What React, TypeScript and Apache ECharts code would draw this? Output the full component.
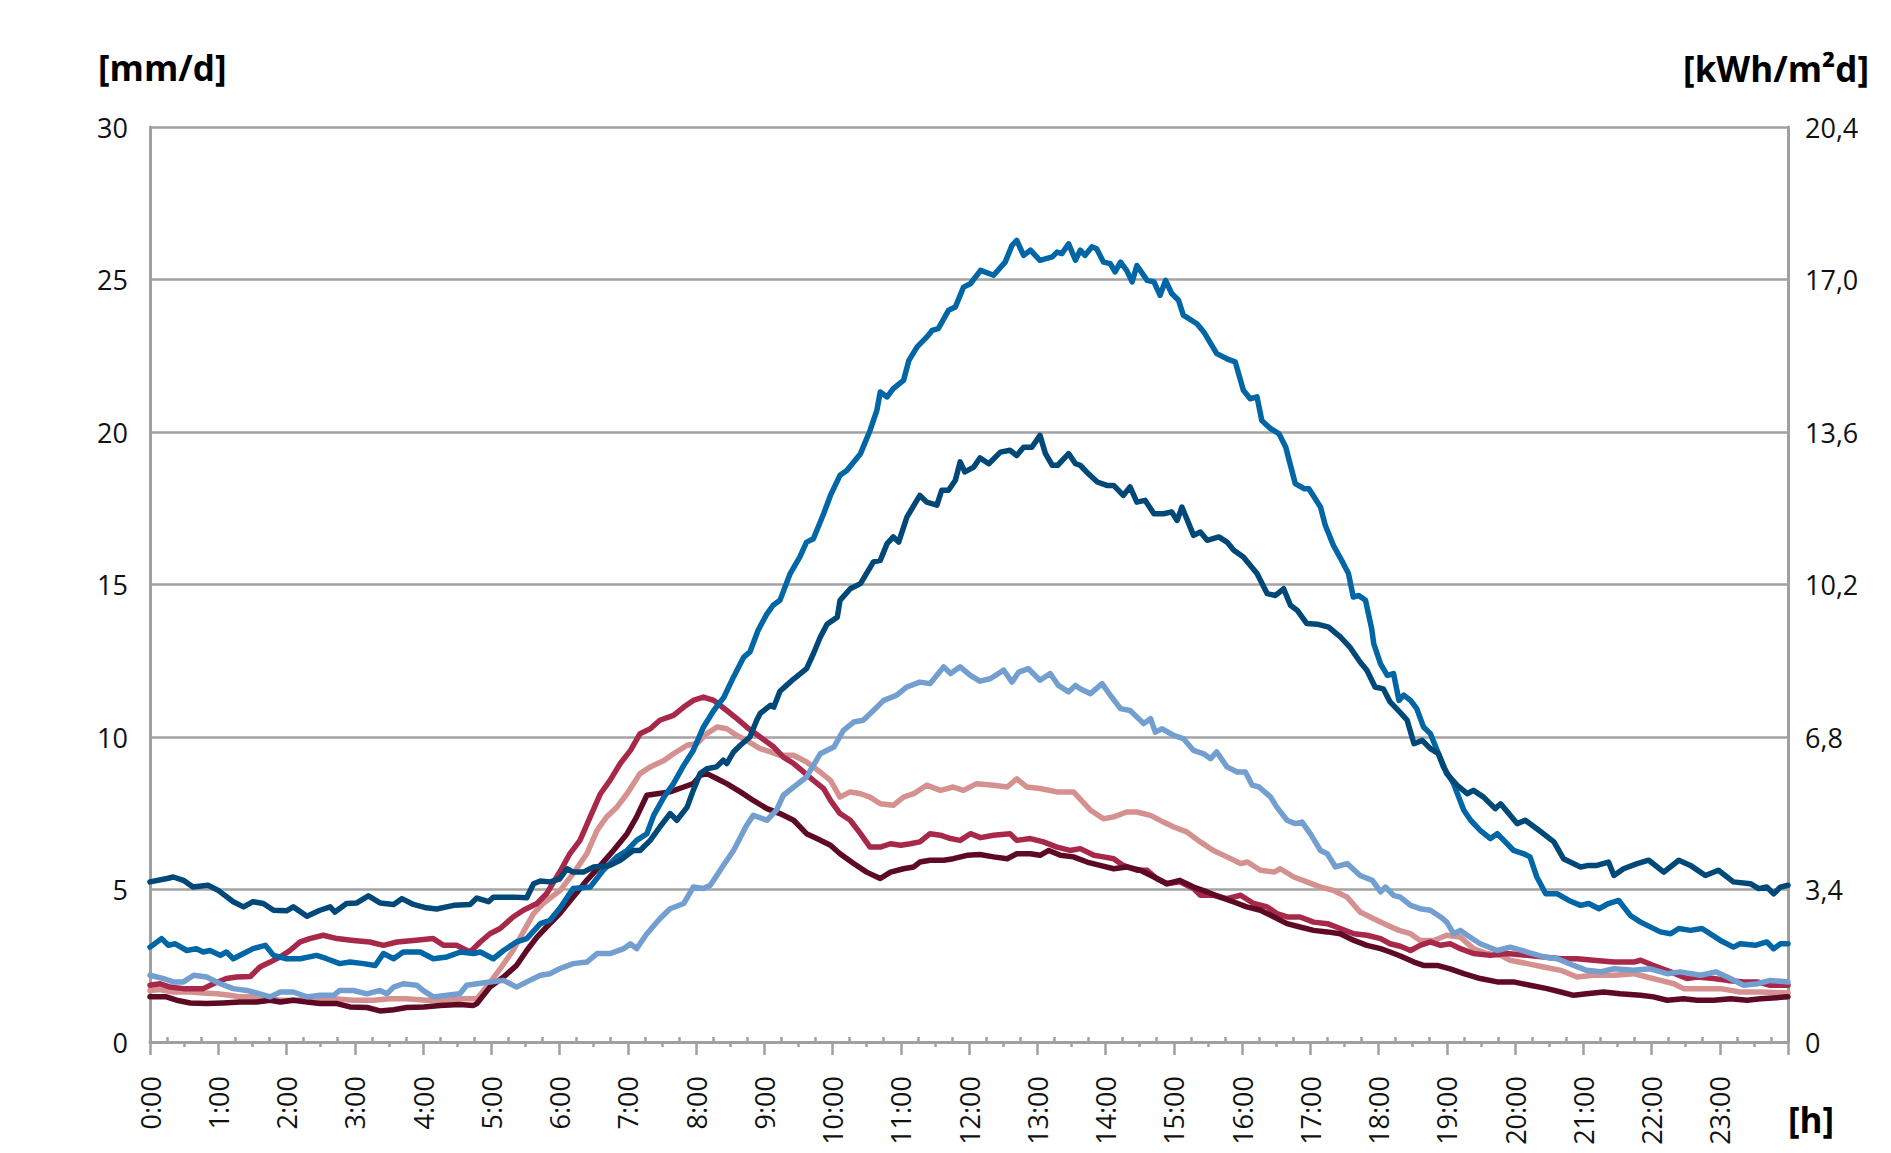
import React, { useEffect, useRef } from "react";
import * as echarts from "echarts";

// hour-of-day tick labels shown on the x axis
const hourLabels: string[] = Array.from({ length: 24 }, (_, h) => `${h}:00`);
// 48 half-hour bins used for the inner quarter-hour ticks
const halfHourBins: string[] = Array.from({ length: 48 }, (_, i) => String(i));

const leftTicks = [0, 5, 10, 15, 20, 25, 30];
const rightFactor = 0.68; // 30 mm/d  <->  20,4 kWh/m²d

// [hour, mm/d]
const darkNavy: [number, number][] = [[0,5.25],[0.25,5.36],[0.34,5.41],[0.49,5.3],[0.63,5.08],[0.85,5.14],[1.0,4.97],[1.22,4.6],[1.37,4.43],[1.51,4.6],[1.66,4.54],[1.81,4.32],[2.0,4.3],[2.1,4.43],[2.3,4.12],[2.49,4.32],[2.64,4.43],[2.71,4.26],[2.88,4.54],[3.03,4.56],[3.2,4.79],[3.37,4.56],[3.57,4.51],[3.69,4.7],[3.86,4.51],[4.05,4.4],[4.2,4.36],[4.45,4.48],[4.69,4.51],[4.79,4.72],[4.96,4.6],[5.03,4.75],[5.33,4.75],[5.52,4.73],[5.62,5.19],[5.72,5.28],[5.86,5.25],[6.0,5.34],[6.11,5.68],[6.2,5.57],[6.35,5.57],[6.5,5.74],[6.74,5.79],[6.89,5.96],[7.08,6.28],[7.18,6.28],[7.33,6.61],[7.47,7.05],[7.62,7.49],[7.72,7.27],[7.87,7.7],[7.96,8.25],[8.06,8.8],[8.16,8.96],[8.3,9.02],[8.4,9.24],[8.45,9.13],[8.55,9.51],[8.65,9.73],[8.79,10.0],[8.89,10.55],[8.94,10.77],[9.09,11.04],[9.14,10.98],[9.23,11.5],[9.33,11.7],[9.43,11.9],[9.62,12.24],[9.72,12.73],[9.82,13.27],[9.92,13.7],[10.07,13.93],[10.11,14.48],[10.26,14.86],[10.41,15.03],[10.6,15.74],[10.7,15.79],[10.8,16.34],[10.89,16.56],[10.97,16.39],[11.09,17.21],[11.28,17.92],[11.38,17.7],[11.53,17.6],[11.6,18.09],[11.7,18.09],[11.8,18.42],[11.87,19.02],[11.94,18.69],[12.07,18.85],[12.16,19.15],[12.29,18.96],[12.46,19.34],[12.6,19.4],[12.7,19.23],[12.8,19.5],[12.92,19.5],[13.04,19.89],[13.12,19.29],[13.22,18.91],[13.3,18.91],[13.46,19.29],[13.56,18.96],[13.63,18.91],[13.75,18.63],[13.88,18.36],[14.02,18.25],[14.12,18.25],[14.26,17.92],[14.36,18.2],[14.46,17.7],[14.58,17.76],[14.71,17.32],[14.85,17.32],[14.97,17.38],[15.05,17.1],[15.12,17.54],[15.29,16.61],[15.39,16.72],[15.49,16.45],[15.66,16.56],[15.78,16.39],[15.88,16.12],[16.02,15.9],[16.22,15.36],[16.37,14.7],[16.49,14.64],[16.61,14.86],[16.71,14.32],[16.81,14.15],[16.95,13.72],[17.1,13.7],[17.27,13.6],[17.44,13.28],[17.58,12.95],[17.73,12.46],[17.83,12.19],[17.95,11.64],[18.07,11.58],[18.17,11.15],[18.32,10.8],[18.42,10.55],[18.52,9.78],[18.64,9.89],[18.76,9.62],[18.88,9.45],[19.0,8.8],[19.15,8.42],[19.3,8.14],[19.39,8.25],[19.54,8.03],[19.71,7.65],[19.79,7.81],[20.03,7.16],[20.15,7.27],[20.35,6.94],[20.57,6.56],[20.71,6.01],[20.96,5.74],[21.08,5.79],[21.2,5.79],[21.37,5.9],[21.45,5.46],[21.59,5.68],[21.79,5.85],[21.96,5.96],[22.18,5.57],[22.4,5.96],[22.57,5.79],[22.79,5.46],[22.98,5.63],[23.2,5.25],[23.45,5.19],[23.57,5.03],[23.69,5.08],[23.79,4.86],[23.89,5.08],[24,5.14]];

const mediumBlue: [number, number][] = [[0,3.11],[0.17,3.39],[0.27,3.17],[0.37,3.22],[0.54,3.0],[0.68,3.06],[0.78,2.95],[0.88,3.0],[1.03,2.84],[1.12,2.95],[1.22,2.73],[1.37,2.9],[1.51,3.06],[1.69,3.17],[1.81,2.84],[2.0,2.73],[2.2,2.73],[2.44,2.84],[2.59,2.73],[2.78,2.57],[2.93,2.62],[3.13,2.57],[3.3,2.51],[3.42,2.9],[3.57,2.73],[3.71,2.95],[3.96,2.95],[4.15,2.73],[4.35,2.79],[4.55,2.95],[4.74,2.9],[4.84,2.95],[5.03,2.73],[5.18,3.0],[5.37,3.28],[5.52,3.39],[5.72,3.88],[5.86,3.99],[6.01,4.4],[6.2,5.03],[6.45,5.08],[6.64,5.63],[6.84,6.07],[6.99,6.28],[7.13,6.61],[7.28,6.83],[7.38,7.43],[7.53,8.03],[7.67,8.47],[7.82,9.07],[7.96,9.56],[8.11,10.33],[8.26,10.87],[8.41,11.31],[8.55,11.97],[8.7,12.62],[8.79,12.79],[8.91,13.5],[9.04,14.04],[9.13,14.32],[9.23,14.48],[9.38,15.36],[9.52,15.9],[9.62,16.39],[9.72,16.5],[9.87,17.32],[9.97,17.92],[10.11,18.58],[10.21,18.74],[10.41,19.29],[10.55,20.05],[10.65,20.71],[10.7,21.31],[10.8,21.15],[10.89,21.42],[11.04,21.69],[11.12,22.35],[11.24,22.79],[11.38,23.11],[11.46,23.33],[11.55,23.39],[11.7,23.99],[11.8,24.1],[11.92,24.75],[12.02,24.86],[12.17,25.3],[12.36,25.14],[12.53,25.57],[12.63,26.12],[12.7,26.28],[12.8,25.79],[12.9,25.96],[13.04,25.63],[13.22,25.74],[13.29,25.9],[13.36,25.85],[13.46,26.17],[13.56,25.63],[13.63,25.96],[13.7,25.79],[13.8,26.07],[13.87,26.01],[13.97,25.57],[14.07,25.52],[14.14,25.25],[14.22,25.57],[14.31,25.3],[14.39,24.92],[14.46,25.46],[14.61,24.97],[14.71,24.92],[14.8,24.48],[14.88,24.97],[14.97,24.54],[15.07,24.32],[15.14,23.83],[15.34,23.55],[15.44,23.28],[15.63,22.57],[15.78,22.4],[15.9,22.3],[16.02,21.37],[16.12,21.09],[16.22,21.15],[16.29,20.38],[16.42,20.11],[16.54,19.95],[16.64,19.51],[16.78,18.31],[16.91,18.14],[16.98,18.14],[17.15,17.54],[17.22,16.94],[17.34,16.28],[17.46,15.79],[17.56,15.36],[17.63,14.59],[17.71,14.64],[17.81,14.48],[17.9,13.55],[17.93,13.06],[18.03,12.4],[18.13,12.02],[18.22,12.08],[18.3,11.2],[18.37,11.37],[18.47,11.2],[18.56,10.93],[18.66,10.33],[18.76,10.11],[18.86,9.56],[18.95,9.02],[19.1,8.47],[19.25,7.6],[19.35,7.27],[19.49,6.94],[19.64,6.67],[19.74,6.83],[19.98,6.28],[20.13,6.17],[20.22,6.07],[20.32,5.41],[20.45,4.86],[20.62,4.86],[20.79,4.64],[20.96,4.48],[21.08,4.54],[21.23,4.37],[21.37,4.54],[21.52,4.64],[21.69,4.15],[21.84,3.93],[22.13,3.61],[22.28,3.55],[22.4,3.72],[22.57,3.66],[22.74,3.72],[23.01,3.33],[23.2,3.11],[23.3,3.22],[23.52,3.17],[23.69,3.28],[23.79,3.06],[23.89,3.22],[24,3.22]];

const lightBlue: [number, number][] = [[0,2.19],[0.2,2.08],[0.34,1.97],[0.49,1.97],[0.64,2.19],[0.83,2.13],[1.03,1.91],[1.22,1.75],[1.42,1.69],[1.61,1.58],[1.76,1.48],[1.91,1.64],[2.1,1.64],[2.3,1.48],[2.49,1.53],[2.69,1.53],[2.78,1.69],[2.98,1.69],[3.18,1.58],[3.37,1.69],[3.47,1.58],[3.57,1.8],[3.71,1.91],[3.91,1.86],[4.0,1.69],[4.15,1.48],[4.35,1.53],[4.54,1.58],[4.64,1.86],[4.79,1.91],[4.98,1.97],[5.18,2.02],[5.37,1.8],[5.52,1.97],[5.72,2.19],[5.86,2.24],[6.0,2.4],[6.2,2.57],[6.4,2.62],[6.55,2.9],[6.74,2.9],[6.94,3.06],[7.04,3.22],[7.13,3.06],[7.28,3.55],[7.47,4.04],[7.62,4.37],[7.82,4.54],[7.96,5.08],[8.11,5.03],[8.21,5.14],[8.4,5.79],[8.55,6.28],[8.74,7.1],[8.84,7.43],[9.04,7.27],[9.18,7.6],[9.28,8.09],[9.43,8.36],[9.62,8.69],[9.82,9.45],[10.02,9.67],[10.16,10.22],[10.31,10.49],[10.45,10.55],[10.6,10.87],[10.75,11.2],[10.94,11.37],[11.09,11.64],[11.28,11.8],[11.43,11.75],[11.63,12.3],[11.73,12.08],[11.87,12.3],[12.02,12.02],[12.16,11.83],[12.31,11.91],[12.51,12.19],[12.63,11.8],[12.73,12.13],[12.87,12.24],[13.04,11.86],[13.19,12.08],[13.31,11.69],[13.46,11.48],[13.56,11.69],[13.63,11.58],[13.78,11.42],[13.95,11.75],[14.07,11.37],[14.22,10.93],[14.36,10.87],[14.56,10.44],[14.66,10.6],[14.73,10.16],[14.83,10.27],[15.0,10.05],[15.14,9.95],[15.29,9.56],[15.44,9.45],[15.54,9.29],[15.63,9.51],[15.78,9.02],[15.93,8.85],[16.05,8.85],[16.15,8.42],[16.25,8.36],[16.42,8.03],[16.51,7.7],[16.66,7.27],[16.78,7.16],[16.88,7.21],[17.0,6.83],[17.15,6.28],[17.25,6.17],[17.37,5.74],[17.54,5.85],[17.73,5.46],[17.91,5.3],[18.03,4.92],[18.1,5.08],[18.22,4.81],[18.32,4.75],[18.47,4.48],[18.61,4.37],[18.76,4.32],[18.91,4.1],[19.0,3.93],[19.1,3.55],[19.2,3.66],[19.3,3.5],[19.49,3.22],[19.74,3.0],[19.93,3.11],[20.18,2.95],[20.42,2.79],[20.62,2.73],[20.86,2.51],[21.05,2.35],[21.25,2.3],[21.45,2.4],[21.74,2.35],[21.98,2.4],[22.23,2.24],[22.42,2.3],[22.72,2.19],[22.94,2.3],[23.11,2.13],[23.35,1.86],[23.55,1.91],[23.74,2.02],[24,1.97]];

const crimson: [number, number][] = [[0,1.86],[0.15,1.91],[0.29,1.8],[0.49,1.75],[0.78,1.75],[0.93,1.91],[1.12,2.08],[1.27,2.13],[1.47,2.15],[1.61,2.46],[1.76,2.62],[1.91,2.79],[2.05,3.0],[2.2,3.28],[2.34,3.39],[2.54,3.5],[2.74,3.39],[2.98,3.33],[3.22,3.28],[3.42,3.17],[3.62,3.28],[3.86,3.33],[4.15,3.39],[4.3,3.17],[4.49,3.17],[4.69,2.95],[4.84,3.28],[4.98,3.55],[5.13,3.72],[5.32,4.1],[5.47,4.32],[5.67,4.54],[5.81,4.86],[6.01,5.6],[6.15,6.17],[6.3,6.61],[6.45,7.38],[6.6,8.14],[6.74,8.58],[6.89,9.13],[7.04,9.56],[7.18,10.11],[7.33,10.27],[7.47,10.55],[7.67,10.71],[7.82,10.98],[7.96,11.2],[8.11,11.31],[8.26,11.2],[8.45,10.87],[8.6,10.6],[8.74,10.33],[8.94,10.0],[9.14,9.67],[9.28,9.34],[9.43,9.13],[9.58,8.85],[9.72,8.58],[9.87,8.31],[9.97,7.92],[10.11,7.49],[10.26,7.27],[10.41,6.83],[10.55,6.39],[10.7,6.39],[10.85,6.5],[11.0,6.45],[11.14,6.5],[11.28,6.56],[11.43,6.83],[11.58,6.78],[11.73,6.67],[11.87,6.61],[12.02,6.83],[12.17,6.7],[12.36,6.78],[12.6,6.83],[12.7,6.61],[12.9,6.67],[13.09,6.56],[13.29,6.39],[13.48,6.28],[13.63,6.34],[13.83,6.12],[13.97,6.07],[14.12,6.01],[14.26,5.79],[14.46,5.63],[14.61,5.63],[14.75,5.36],[14.9,5.19],[15.09,5.25],[15.29,5.03],[15.39,4.81],[15.58,4.81],[15.78,4.7],[15.98,4.81],[16.17,4.54],[16.37,4.43],[16.51,4.21],[16.66,4.1],[16.85,4.1],[17.05,3.93],[17.25,3.88],[17.44,3.72],[17.64,3.55],[17.83,3.5],[18.03,3.39],[18.17,3.22],[18.32,3.14],[18.47,3.0],[18.61,3.17],[18.76,3.28],[18.91,3.17],[19.05,3.22],[19.2,3.06],[19.39,2.9],[19.64,2.84],[19.88,2.9],[20.18,2.84],[20.42,2.79],[20.67,2.73],[20.91,2.73],[21.15,2.68],[21.45,2.62],[21.74,2.62],[21.84,2.68],[22.03,2.51],[22.28,2.3],[22.52,2.08],[22.67,2.13],[22.91,2.08],[23.11,2.02],[23.35,1.97],[23.55,1.97],[23.74,1.86],[24,1.86]];

const lightPink: [number, number][] = [[0,1.69],[0.15,1.72],[0.34,1.64],[0.59,1.64],[0.78,1.61],[0.98,1.58],[1.17,1.53],[1.32,1.48],[1.51,1.48],[1.71,1.42],[1.91,1.37],[2.15,1.37],[2.39,1.42],[2.69,1.42],[2.98,1.37],[3.27,1.37],[3.52,1.42],[3.76,1.42],[4.05,1.37],[4.35,1.37],[4.59,1.42],[4.79,1.42],[4.93,1.8],[5.13,2.4],[5.32,3.0],[5.47,3.61],[5.62,4.21],[5.76,4.54],[6.01,4.97],[6.2,5.52],[6.4,6.17],[6.55,6.94],[6.69,7.38],[6.84,7.7],[6.99,8.14],[7.18,8.8],[7.33,9.02],[7.53,9.23],[7.67,9.45],[7.87,9.73],[8.01,9.78],[8.16,10.11],[8.31,10.33],[8.45,10.27],[8.6,10.05],[8.74,9.89],[8.94,9.62],[9.09,9.51],[9.23,9.4],[9.43,9.4],[9.62,9.18],[9.82,8.85],[9.97,8.58],[10.11,8.03],[10.26,8.2],[10.41,8.14],[10.55,8.03],[10.7,7.81],[10.89,7.76],[11.04,8.03],[11.19,8.14],[11.38,8.42],[11.58,8.25],[11.77,8.36],[11.92,8.25],[12.11,8.47],[12.36,8.42],[12.56,8.36],[12.7,8.63],[12.85,8.36],[13.04,8.31],[13.29,8.2],[13.53,8.2],[13.78,7.6],[13.97,7.32],[14.12,7.38],[14.31,7.54],[14.46,7.54],[14.66,7.43],[14.85,7.21],[15.0,7.05],[15.19,6.89],[15.39,6.56],[15.58,6.28],[15.78,6.07],[15.98,5.85],[16.08,5.9],[16.27,5.63],[16.47,5.57],[16.56,5.68],[16.76,5.41],[16.95,5.25],[17.15,5.08],[17.34,4.97],[17.44,4.86],[17.54,4.75],[17.73,4.26],[17.93,4.04],[18.13,3.83],[18.3,3.66],[18.47,3.55],[18.61,3.33],[18.81,3.33],[19.0,3.5],[19.2,3.44],[19.39,3.06],[19.59,2.9],[19.79,2.84],[19.93,2.68],[20.18,2.57],[20.42,2.46],[20.67,2.35],[20.91,2.13],[21.15,2.19],[21.45,2.19],[21.74,2.24],[21.93,2.13],[22.13,2.02],[22.33,1.91],[22.47,1.75],[22.72,1.75],[23.01,1.75],[23.3,1.64],[23.6,1.64],[24,1.61]];

const darkMaroon: [number, number][] = [[0,1.48],[0.24,1.48],[0.39,1.37],[0.59,1.28],[0.83,1.26],[1.07,1.28],[1.32,1.31],[1.56,1.31],[1.76,1.37],[1.91,1.31],[2.1,1.37],[2.3,1.31],[2.49,1.26],[2.74,1.26],[2.93,1.15],[3.18,1.13],[3.37,1.02],[3.57,1.06],[3.76,1.13],[4.01,1.15],[4.25,1.2],[4.54,1.23],[4.74,1.2],[4.79,1.26],[4.98,1.8],[5.18,2.13],[5.37,2.51],[5.52,3.0],[5.67,3.44],[5.81,3.77],[6.01,4.23],[6.2,4.75],[6.4,5.3],[6.6,5.79],[6.79,6.28],[6.99,6.83],[7.13,7.38],[7.28,8.09],[7.43,8.14],[7.62,8.2],[7.82,8.36],[7.96,8.47],[8.06,8.74],[8.16,8.8],[8.31,8.63],[8.45,8.47],[8.65,8.2],[8.84,7.92],[9.04,7.65],[9.23,7.49],[9.43,7.27],[9.62,6.83],[9.77,6.67],[9.97,6.45],[10.11,6.17],[10.31,5.85],[10.5,5.57],[10.7,5.36],[10.85,5.57],[11.04,5.68],[11.19,5.74],[11.28,5.9],[11.43,5.96],[11.63,5.96],[11.77,6.01],[11.97,6.12],[12.16,6.15],[12.36,6.07],[12.56,6.01],[12.7,6.17],[12.9,6.17],[13.04,6.12],[13.17,6.28],[13.34,6.12],[13.53,6.07],[13.73,5.9],[13.92,5.79],[14.12,5.68],[14.31,5.74],[14.51,5.63],[14.71,5.41],[14.9,5.19],[15.09,5.3],[15.29,5.08],[15.49,4.92],[15.68,4.75],[15.88,4.59],[16.07,4.43],[16.27,4.32],[16.47,4.1],[16.66,3.88],[16.85,3.77],[17.05,3.66],[17.25,3.61],[17.44,3.55],[17.64,3.33],[17.83,3.17],[18.03,3.06],[18.17,2.95],[18.32,2.82],[18.52,2.62],[18.66,2.51],[18.86,2.51],[19.05,2.4],[19.25,2.24],[19.49,2.08],[19.74,1.97],[19.98,1.97],[20.22,1.86],[20.47,1.75],[20.67,1.64],[20.86,1.53],[21.05,1.58],[21.3,1.64],[21.54,1.58],[21.84,1.53],[22.03,1.48],[22.23,1.37],[22.47,1.42],[22.67,1.37],[22.91,1.37],[23.16,1.42],[23.4,1.37],[23.6,1.42],[24,1.48]];

const seriesDefs: { name: string; color: string; data: [number, number][] }[] = [
  { name: "lightPink", color: "#d4918f", data: lightPink },
  { name: "crimson", color: "#a8284a", data: crimson },
  { name: "darkMaroon", color: "#5e0a25", data: darkMaroon },
  { name: "lightBlue", color: "#729fcf", data: lightBlue },
  { name: "mediumBlue", color: "#0066a6", data: mediumBlue },
  { name: "darkNavy", color: "#004878", data: darkNavy },
];

const FONT = "'Open Sans', 'Noto Sans', sans-serif";
const AXIS_GRAY = "#a0a0a0";

export default function App() {
  const ref = useRef<HTMLDivElement>(null);

  useEffect(() => {
    if (!ref.current) return;
    const chart = echarts.init(ref.current, undefined, { renderer: "svg" });
    const labelStyle = { fontFamily: FONT, fontSize: 27, color: "#111" };
    chart.setOption({
      animation: false,
      backgroundColor: "#ffffff",
      grid: { left: 150, right: 103, top: 127, bottom: 111, containLabel: false },
      xAxis: [
        {
          type: "value",
          position: "bottom",
          min: 0,
          max: 24,
          interval: 1,
          axisLine: { show: true, lineStyle: { color: AXIS_GRAY, width: 3 } },
          axisTick: { show: true, inside: false, length: 13, lineStyle: { color: AXIS_GRAY, width: 2.5 } },
          minorTick: { show: true, splitNumber: 2, length: 5, lineStyle: { color: AXIS_GRAY, width: 2.5 } },
          splitLine: { show: false },
          minorSplitLine: { show: false },
          axisLabel: {
            ...labelStyle,
            rotate: 90,
            margin: 34,
            showMaxLabel: false,
            formatter: (v: number) => (v < 24 ? hourLabels[Math.round(v)] : ""),
          },
        },
        {
          type: "category",
          position: "bottom",
          data: halfHourBins,
          boundaryGap: true,
          axisLine: { show: false },
          axisLabel: { show: false },
          splitLine: { show: false },
          axisTick: { show: true, inside: true, alignWithLabel: true, interval: 0, length: 5, lineStyle: { color: AXIS_GRAY, width: 2.5 } },
        },
      ],
      yAxis: [
        {
          type: "value",
          position: "left",
          min: leftTicks[0],
          max: leftTicks[leftTicks.length - 1],
          interval: 5,
          axisLine: { show: true, lineStyle: { color: AXIS_GRAY, width: 3 } },
          axisTick: { show: false },
          splitLine: { show: true, lineStyle: { color: "#a3a3a3", width: 2.5 } },
          axisLabel: { ...labelStyle, margin: 22 },
        },
        {
          type: "value",
          position: "right",
          min: leftTicks[0],
          max: leftTicks[leftTicks.length - 1],
          interval: 5,
          axisLine: { show: true, lineStyle: { color: AXIS_GRAY, width: 3 } },
          axisTick: { show: false },
          splitLine: { show: false },
          axisLabel: {
            ...labelStyle,
            margin: 17,
            formatter: (v: number) => (v === 0 ? "0" : (v * rightFactor).toFixed(1).replace(".", ",")),
          },
        },
      ],
      series: seriesDefs.map((s) => ({
        name: s.name,
        type: "line",
        xAxisIndex: 0,
        yAxisIndex: 0,
        data: s.data,
        showSymbol: false,
        symbol: "none",
        smooth: false,
        lineStyle: { color: s.color, width: 5.5, join: "round", cap: "round" },
        itemStyle: { color: s.color },
      })),
      graphic: [
        {
          type: "text",
          left: 98,
          top: 50,
          style: { text: "[mm/d]", fontFamily: FONT, fontWeight: "bold", fontSize: 35, fill: "#000" },
        },
        {
          type: "text",
          right: 22,
          top: 51,
          style: { text: "[kWh/m²d]", fontFamily: FONT, fontWeight: "bold", fontSize: 35, fill: "#000" },
        },
        {
          type: "text",
          left: 1788,
          top: 1102,
          style: { text: "[h]", fontFamily: FONT, fontWeight: "bold", fontSize: 35, fill: "#000" },
        },
      ],
    });
    return () => chart.dispose();
  }, []);

  return (
    <div
      ref={ref}
      style={{ position: "fixed", left: 0, top: 0, width: 1891, height: 1153, background: "#fff" }}
    />
  );
}
